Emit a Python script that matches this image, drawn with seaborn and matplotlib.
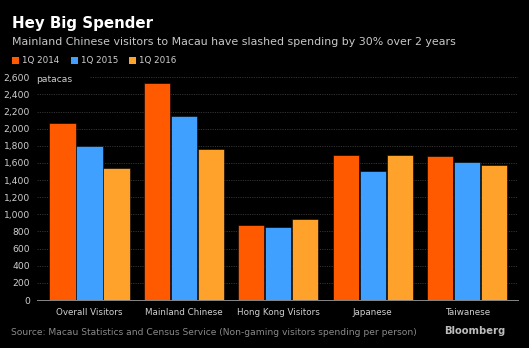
import matplotlib
matplotlib.use("Agg")
import matplotlib.pyplot as plt
import seaborn as sns
import pandas as pd
from matplotlib.patches import Rectangle

categories = ["Overall Visitors", "Mainland Chinese", "Hong Kong Visitors", "Japanese", "Taiwanese"]
periods = ["1Q 2014", "1Q 2015", "1Q 2016"]
v2014 = [2070, 2530, 880, 1697, 1686]
v2015 = [1798, 2145, 850, 1502, 1611]
v2016 = [1545, 1760, 949, 1690, 1573]
colors = ["#FF5A00", "#3FA0FF", "#FFA22B"]
yticks = list(range(0, 2601, 200))

rows = []
for p, vals in zip(periods, [v2014, v2015, v2016]):
    for c, v in zip(categories, vals):
        rows.append({"category": c, "period": p, "value": v})
df = pd.DataFrame(rows)

sns.set_style("dark")
W, H = 529, 348
fig = plt.figure(figsize=(W / 100, H / 100), dpi=100, facecolor="black")
ax = fig.add_axes([37 / W, 1 - 300 / H, (518 - 37) / W, (300 - 77.3) / H])
ax.set_facecolor("black")

sns.barplot(data=df, x="category", y="value", hue="period", palette=colors,
            hue_order=periods, order=categories, width=0.86, gap=0.03,
            edgecolor="black", linewidth=0.4, legend=False, ax=ax, saturation=1)

ax.set_xlim(-0.556, 4.539)
ax.set_ylim(0, 2600)
ax.set_yticks(yticks)
ax.set_yticklabels([f"{t:,}" for t in yticks], color="#D0D0D0", fontsize=6.6)
ax.set_xlabel("")
ax.set_ylabel("")
ax.tick_params(axis="x", colors="#D0D0D0", labelsize=6.3, length=3, width=0.6, pad=3, color="#888888")
ax.tick_params(axis="y", length=0, pad=5)
ax.grid(False)
for t in yticks[1:]:
    ax.axhline(t, color="#333333", linestyle=(0, (1.2, 1.2)), linewidth=0.7, zorder=0,
               xmin=(0.11 if t == 2600 else 0), xmax=1)
for s in ["top", "right", "left"]:
    ax.spines[s].set_visible(False)
ax.spines["bottom"].set_color("#888888")
ax.spines["bottom"].set_linewidth(0.7)

ax.text(36 / W, 1 - 81.5 / H, "patacas", transform=fig.transFigure, color="#D0D0D0",
        fontsize=6.6, va="baseline", ha="left")

fig.text(12 / W, 1 - 28 / H, "Hey Big Spender", color="white", fontsize=10.8,
         fontweight="heavy", va="baseline", ha="left")
fig.text(12 / W, 1 - 45 / H, "Mainland Chinese visitors to Macau have slashed spending by 30% over 2 years",
         color="#C8C8C8", fontsize=7.9, va="baseline", ha="left")

for i, (p, c) in enumerate(zip(periods, colors)):
    x0 = [12, 71, 129][i]
    fig.patches.append(Rectangle((x0 / W, 1 - 63.5 / H), 7 / W, 7 / H, transform=fig.transFigure,
                                 facecolor=c, edgecolor="none"))
    fig.text((x0 + 10) / W, 1 - 63 / H, p, color="#D0D0D0", fontsize=6.3, va="baseline", ha="left")

fig.text(11 / W, 1 - 335 / H, "Source: Macau Statistics and Census Service (Non-gaming visitors spending per person)",
         color="#8A8A8A", fontsize=6.6, va="baseline", ha="left")
fig.text(505 / W, 1 - 334 / H, "Bloomberg", color="#BDBDBD", fontsize=7.2, fontweight="bold",
         va="baseline", ha="right")

fig.savefig("out.png", dpi=100, facecolor="black")
